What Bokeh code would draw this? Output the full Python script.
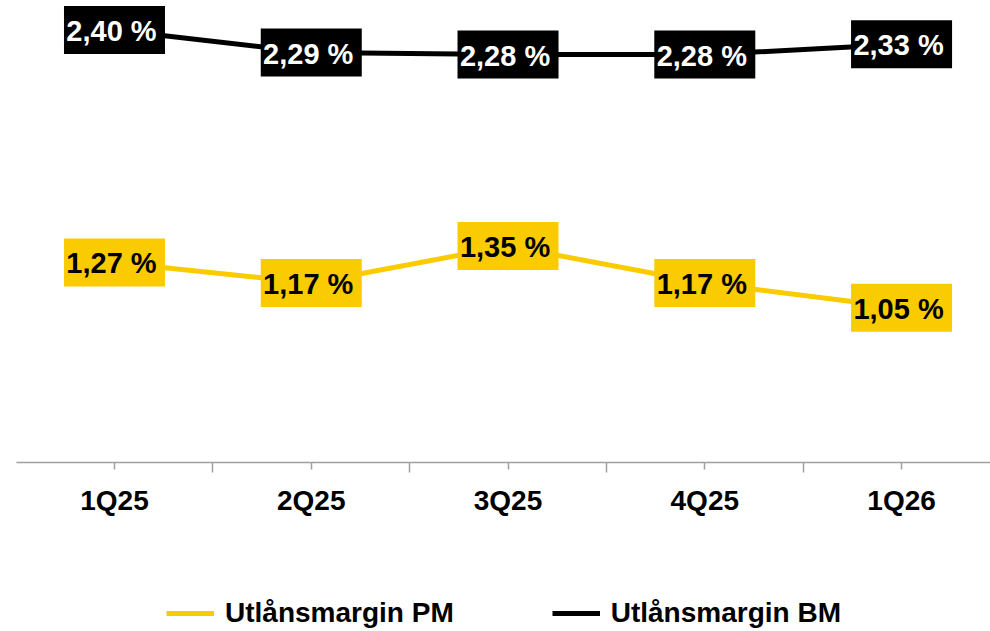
from bokeh.plotting import figure
from bokeh.layouts import column
from bokeh.models import ColumnDataSource, FixedTicker, Legend, LegendItem, Range1d
from bokeh.core.properties import value
from bokeh.embed import file_html
from bokeh.resources import INLINE

categories = ["1Q25", "2Q25", "3Q25", "4Q25", "1Q26"]
margin_pm = [1.27, 1.17, 1.35, 1.17, 1.05]
margin_bm = [2.40, 2.29, 2.28, 2.28, 2.33]
series_names = ["Utlånsmargin PM", "Utlånsmargin BM"]

YELLOW = "#FACC00"
BLACK = "#000000"
AXIS_GRAY = "#A0A0A0"
FONT = "Liberation Sans"

xs = list(range(len(categories)))


def fmt(v):
    return f"{v:.2f}".replace(".", ",") + " %"


p = figure(width=990, height=560, output_backend="svg", toolbar_location=None,
           x_range=Range1d(-0.498, 4.452), y_range=Range1d(0.298, 2.543),
           min_border_left=16, min_border_right=0, min_border_top=0,
           min_border_bottom=98)
p.yaxis.visible = False
p.grid.visible = False
p.outline_line_color = None
p.background_fill_color = "white"
p.border_fill_color = "white"

ax = p.xaxis[0]
ax.ticker = FixedTicker(ticks=xs, minor_ticks=[i - 0.5 for i in range(len(categories) + 1)])
ax.major_label_overrides = {i: c for i, c in zip(xs, categories)}
ax.axis_line_color = AXIS_GRAY
ax.axis_line_width = 1.5
ax.major_tick_line_color = AXIS_GRAY
ax.major_tick_line_width = 1.5
ax.minor_tick_line_color = AXIS_GRAY
ax.minor_tick_line_width = 1.5
ax.major_tick_in = 0
ax.major_tick_out = 7
ax.minor_tick_in = 0
ax.minor_tick_out = 10
ax.major_label_standoff = 12
ax.major_label_text_font = FONT
ax.major_label_text_font_style = "bold"
ax.major_label_text_font_size = "28px"
ax.major_label_text_color = BLACK

bm_src = ColumnDataSource(dict(x=xs, y=margin_bm, t=[fmt(v) for v in margin_bm]))
pm_src = ColumnDataSource(dict(x=xs, y=margin_pm, t=[fmt(v) for v in margin_pm]))

bm_line = p.line("x", "y", source=bm_src, line_color=BLACK, line_width=5)
pm_line = p.line("x", "y", source=pm_src, line_color=YELLOW, line_width=5)

for src, box, txt in ((bm_src, BLACK, "white"), (pm_src, YELLOW, BLACK)):
    p.rect("x", "y", source=src, width=101, height=48, width_units="screen",
           height_units="screen", fill_color=box, line_color=None)
    p.text("x", "y", text="t", source=src, text_align="center", text_baseline="middle",
           text_font=value(FONT), text_font_style="bold", text_font_size="29px",
           text_color=txt, x_offset=-3, y_offset=1)

# legend strip below the chart (series drawn out of view; only the legend shows)
lg = figure(width=990, height=71, output_backend="svg", toolbar_location=None,
            x_range=Range1d(-0.5, 4.5), y_range=Range1d(0, 1),
            min_border_left=0, min_border_right=0, min_border_top=0, min_border_bottom=0)
lg.axis.visible = False
lg.grid.visible = False
lg.outline_line_color = None
lg_pm = lg.line(xs, margin_pm, line_color=YELLOW, line_width=5)
lg_bm = lg.line(xs, margin_bm, line_color=BLACK, line_width=5)

legend = Legend(items=[LegendItem(label=series_names[0], renderers=[lg_pm]),
                       LegendItem(label=series_names[1], renderers=[lg_bm])],
                orientation="horizontal", location=(150, -1),
                label_text_font=FONT, label_text_font_style="bold",
                label_text_font_size="28px", label_text_color=BLACK,
                glyph_width=48, glyph_height=38, label_height=38, label_standoff=11,
                spacing=98, padding=0, margin=0, border_line_color=None,
                background_fill_alpha=0)
lg.add_layout(legend, "center")

layout = column(p, lg, spacing=0)
open("out.html", "w").write(file_html(layout, INLINE))
